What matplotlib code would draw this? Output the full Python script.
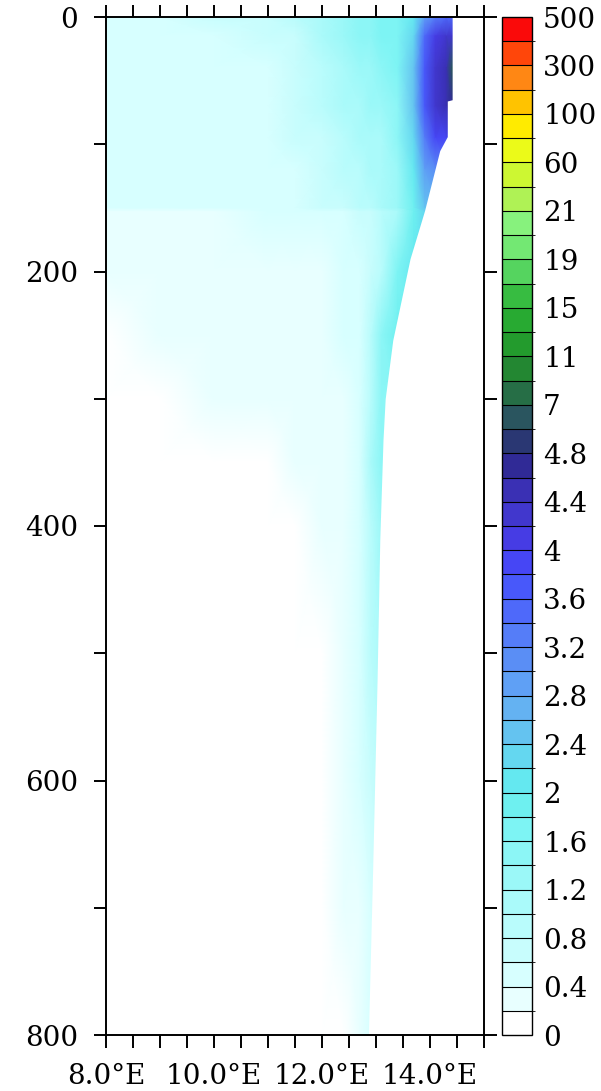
import numpy as np
import matplotlib
matplotlib.use("Agg")
import matplotlib.pyplot as plt
from matplotlib.colors import ListedColormap, BoundaryNorm

plt.rcParams['font.family'] = ['DejaVu Serif']
plt.rcParams['font.size'] = 20

# colour levels (box boundaries of the label bar)
bounds = [0, 0.2, 0.4, 0.6, 0.8, 1.0, 1.2, 1.4, 1.6, 1.8, 2.0, 2.2, 2.4, 2.6,
          2.8, 3.0, 3.2, 3.4, 3.6, 3.8, 4.0, 4.2, 4.4, 4.6, 4.8,
          5, 7, 9, 11, 13, 15, 17, 19, 20, 21, 40, 60, 80, 100, 200, 300, 400, 500]
bar_ticks = [0, 0.4, 0.8, 1.2, 1.6, 2.0, 2.4, 2.8, 3.2, 3.6, 4.0, 4.4, 4.8,
             7, 11, 15, 19, 21, 60, 100, 300, 500]
bar_labels = ['0', '0.4', '0.8', '1.2', '1.6', '2', '2.4', '2.8', '3.2', '3.6',
              '4', '4.4', '4.8', '7', '11', '15', '19', '21', '60', '100', '300', '500']
box_colors = [
    (255, 255, 255), (232, 255, 255), (215, 255, 255), (200, 253, 253),
    (185, 252, 252), (170, 250, 250), (155, 248, 248), (140, 246, 246),
    (125, 244, 244), (110, 240, 240), (100, 232, 240), (100, 215, 240),
    (100, 195, 240), (100, 178, 242), (95, 160, 245), (90, 142, 245),
    (85, 125, 248), (78, 105, 250), (72, 88, 250), (70, 70, 245),
    (70, 60, 228), (65, 55, 205), (58, 48, 180), (48, 42, 150),
    (42, 55, 115), (42, 85, 95), (38, 110, 70), (35, 135, 50),
    (35, 155, 45), (40, 170, 50), (55, 188, 65), (85, 212, 95),
    (115, 232, 115), (135, 242, 125), (175, 242, 85), (205, 247, 50),
    (235, 250, 25), (255, 235, 0), (255, 195, 0), (255, 135, 20),
    (255, 70, 10), (250, 10, 10)]

# section grid: longitude (deg E) and depth (m)
lon = [8.0, 9.0, 10.0, 11.0, 11.5, 12.0, 12.4, 12.7, 12.9, 13.1, 13.4, 13.7,
       13.9, 14.1, 14.3, 14.4, 15.0]
depth = [0, 15, 40, 70, 95, 120, 150, 153, 200, 250, 300, 350, 400, 500, 600, 700, 800]
values = [
    [0.5, 0.5, 0.6, 0.6, 0.8, 1.0, 1.2, 1.4, 1.5, 1.6, 1.7, 2.0, 2.8, 3.2, 3.4, 3.4, 3.4],
    [0.5, 0.5, 0.5, 0.6, 0.7, 1.0, 1.2, 1.4, 1.5, 1.6, 1.7, 2.2, 3.4, 4.0, 4.3, 4.3, 4.3],
    [0.5, 0.5, 0.5, 0.5, 0.6, 0.9, 1.1, 1.2, 1.3, 1.4, 1.6, 2.4, 3.6, 4.2, 4.4, 5.0, 5.0],
    [0.5, 0.5, 0.5, 0.5, 0.6, 0.8, 1.0, 1.1, 1.2, 1.2, 1.5, 2.4, 3.6, 4.2, 4.4, 4.6, 4.6],
    [0.5, 0.5, 0.5, 0.5, 0.6, 0.7, 0.9, 1.0, 1.1, 1.1, 1.4, 2.2, 3.2, 3.8, 3.9, 3.9, 3.9],
    [0.4, 0.5, 0.5, 0.5, 0.5, 0.6, 0.8, 0.9, 1.0, 1.0, 1.3, 2.0, 2.8, 3.0, 3.0, 3.0, 3.0],
    [0.4, 0.4, 0.4, 0.5, 0.5, 0.6, 0.7, 0.8, 0.9, 1.0, 1.3, 1.9, 2.4, 2.4, 2.4, 2.4, 2.4],
    [0.3, 0.3, 0.3, 0.4, 0.4, 0.4, 0.5, 0.6, 0.7, 0.8, 1.1, 1.8, 2.2, 2.2, 2.2, 2.2, 2.2],
    [0.2, 0.3, 0.3, 0.3, 0.3, 0.3, 0.4, 0.5, 0.7, 0.9, 1.6, 2.0, 2.0, 2.0, 2.0, 2.0, 2.0],
    [0.1, 0.2, 0.3, 0.3, 0.3, 0.3, 0.4, 0.5, 0.8, 1.4, 1.8, 1.8, 1.8, 1.8, 1.8, 1.8, 1.8],
    [0.0, 0.1, 0.2, 0.2, 0.3, 0.3, 0.3, 0.5, 0.9, 1.5, 1.5, 1.5, 1.5, 1.5, 1.5, 1.5, 1.5],
    [0.0, 0.0, 0.1, 0.1, 0.2, 0.2, 0.3, 0.5, 1.0, 1.4, 1.4, 1.4, 1.4, 1.4, 1.4, 1.4, 1.4],
    [0.0, 0.0, 0.0, 0.0, 0.1, 0.2, 0.3, 0.5, 0.9, 1.2, 1.2, 1.2, 1.2, 1.2, 1.2, 1.2, 1.2],
    [0.0, 0.0, 0.0, 0.0, 0.1, 0.1, 0.2, 0.4, 0.8, 1.0, 1.0, 1.0, 1.0, 1.0, 1.0, 1.0, 1.0],
    [0.0, 0.0, 0.0, 0.0, 0.0, 0.1, 0.2, 0.4, 0.7, 0.8, 0.8, 0.8, 0.8, 0.8, 0.8, 0.8, 0.8],
    [0.0, 0.0, 0.0, 0.0, 0.0, 0.1, 0.2, 0.3, 0.5, 0.6, 0.6, 0.6, 0.6, 0.6, 0.6, 0.6, 0.6],
    [0.0, 0.0, 0.0, 0.0, 0.0, 0.0, 0.1, 0.3, 0.4, 0.4, 0.4, 0.4, 0.4, 0.4, 0.4, 0.4, 0.4],
]

# eastern limit of valid data (slope / land) along depth
edge_depth = [0, 65, 66, 94, 105, 152, 190, 254, 300, 332, 411, 521, 666, 800]
edge_lon = [14.41, 14.41, 14.32, 14.32, 14.18, 13.9, 13.63, 13.31, 13.17, 13.13,
            13.07, 13.02, 12.94, 12.86]

cmap = ListedColormap(np.array(box_colors) / 255.0)
norm = BoundaryNorm(bounds, cmap.N)

fig = plt.figure(figsize=(6.01, 10.91), dpi=100)
ax = fig.add_axes([106 / 601, 1 - 1035 / 1091, 378 / 601, 1018 / 1091])
cax = fig.add_axes([502 / 601, 1 - 1035 / 1091, 30 / 601, 1018 / 1091])

mesh = ax.pcolormesh(lon, depth, np.array(values), cmap=cmap, norm=norm,
                     shading='gouraud', zorder=1)
ax.fill_betweenx(edge_depth, edge_lon, 15.2, color='white', lw=0, zorder=2)

ax.set_xlim(8, 15)
ax.set_ylim(800, 0)
xt = np.arange(8, 15.01, 0.5)
ax.set_xticks(xt)
ax.set_xticklabels(['%.1f°E' % v if v in (8, 10, 12, 14) else '' for v in xt])
yt = np.arange(0, 801, 100)
ax.set_yticks(yt)
ax.set_yticklabels(['%d' % v if v % 200 == 0 else '' for v in yt])
ax.tick_params(direction='out', length=9, width=1.4, top=True, right=True)
ax.tick_params(axis='y', pad=11)
ax.tick_params(axis='x', pad=11)
for s in ax.spines.values():
    s.set_linewidth(1.4)

cb = fig.colorbar(mesh, cax=cax, boundaries=bounds, drawedges=True)
cb.set_ticks(bar_ticks)
cb.set_ticklabels(bar_labels)
cb.ax.tick_params(length=0, pad=8)
cb.outline.set_linewidth(1.0)
cb.dividers.set_linewidth(0.8)

plt.savefig('out.png', dpi=100)
